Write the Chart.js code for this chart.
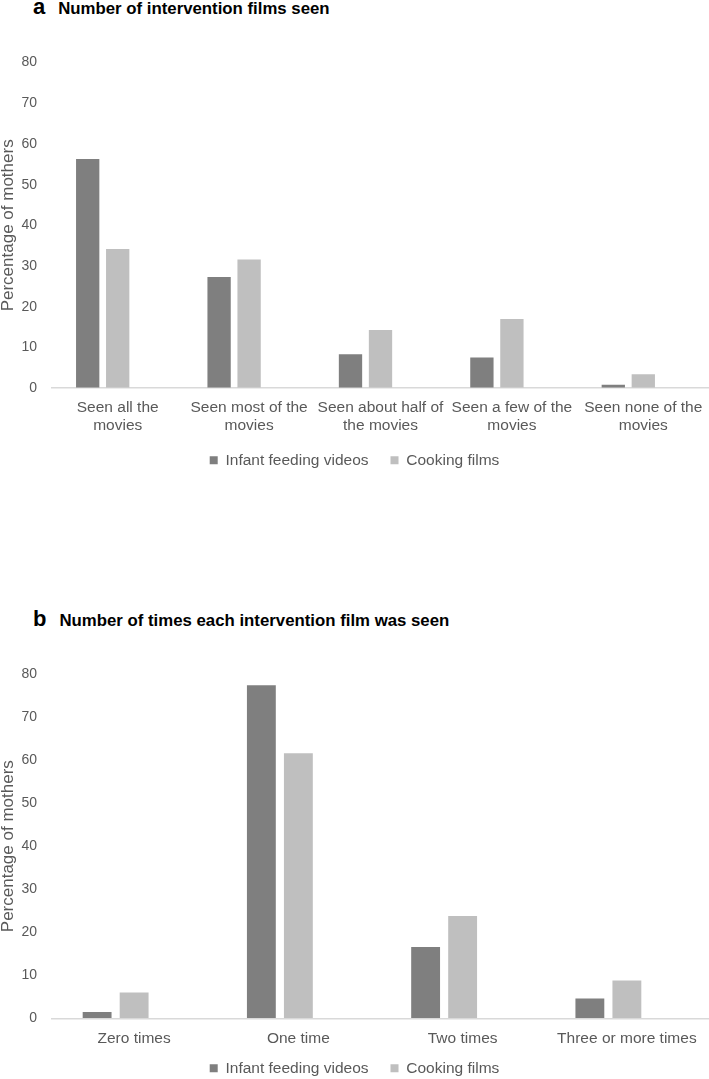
<!DOCTYPE html>
<html>
<head>
<meta charset="utf-8">
<script src="https://cdn.jsdelivr.net/npm/chart.js@4/dist/chart.umd.min.js"></script>
<style>
  html, body { margin: 0; padding: 0; background: #fff; }
  body { width: 709px; height: 1079px; position: relative; overflow: hidden; font-family: "Liberation Sans", Arial, sans-serif; }
  .title { position: absolute; left: 33px; white-space: nowrap; color: #000; font-weight: bold; line-height: 20px; }
  .title .letter { font-size: 22px; margin-right: 13px; }
  .title .txt { font-size: 16.8px; }
  .wrap { position: absolute; left: 0; width: 709px; }
</style>
</head>
<body>
<div class="title" style="top:-3px"><span class="letter">a</span><span class="txt">Number of intervention films seen</span></div>
<div class="title" style="top:609px"><span class="letter">b</span><span class="txt">Number of times each intervention film was seen</span></div>
<div class="wrap" style="top:0px;height:500px"><canvas id="chartA" width="709" height="500"></canvas></div>
<div class="wrap" style="top:600px;height:510px"><canvas id="chartB" width="709" height="510"></canvas></div>
<script>
// ---- Data ----
const seriesNames = ["Infant feeding videos", "Cooking films"];
const filmsSeenCategories = [
  ["Seen all the", "movies"],
  ["Seen most of the", "movies"],
  ["Seen about half of", "the movies"],
  ["Seen a few of the", "movies"],
  ["Seen none of the", "movies"]
];
const filmsSeenInfant = [56.3, 27.3, 8.3, 7.5, 0.8];
const filmsSeenCooking = [34.2, 31.6, 14.3, 17.0, 3.4];

const timesSeenCategories = ["Zero times", "One time", "Two times", "Three or more times"];
const timesSeenInfant = [1.5, 77.4, 16.6, 4.6];
const timesSeenCooking = [6.0, 61.6, 23.8, 8.8];

const yTicks = [0, 10, 20, 30, 40, 50, 60, 70, 80];
const yAxisTitle = "Percentage of mothers";

// ---- Styles ----
const DARK = "#7f7f7f", LIGHT = "#bfbfbf", TEXT = "#595959", AXIS = "#d9d9d9";
const FONT = "'Liberation Sans', Arial, sans-serif";

// moves the bottom legend up closer to the axis labels while keeping item spacing
const legendShift = {
  id: "legendShift",
  afterLayout(chart, args, opts) {
    const lg = chart.legend;
    if (!lg || !opts.dy) return;
    lg.top += opts.dy; lg.bottom += opts.dy;
    if (lg.legendHitBoxes) lg.legendHitBoxes.forEach(h => { h.top += opts.dy; });
  }
};

function makeChart(id, categories, infant, cooking, pad, catPct, barPct) {
  const ctx = document.getElementById(id);
  return new Chart(ctx, {
    type: "bar",
    plugins: [legendShift],
    data: {
      labels: categories,
      datasets: [
        { label: seriesNames[0], data: infant, backgroundColor: DARK, categoryPercentage: catPct, barPercentage: barPct },
        { label: seriesNames[1], data: cooking, backgroundColor: LIGHT, categoryPercentage: catPct, barPercentage: barPct },
        // empty third series slot, as in the original spreadsheet chart
        { label: "", data: categories.map(() => null), backgroundColor: "rgba(0,0,0,0)", categoryPercentage: catPct, barPercentage: barPct }
      ]
    },
    options: {
      responsive: false,
      animation: false,
      devicePixelRatio: 1,
      layout: { padding: { top: pad.top, bottom: pad.bottom, left: 0, right: 0 } },
      plugins: {
        tooltip: { enabled: false },
        legendShift: { dy: pad.legendDy },
        legend: {
          position: "bottom",
          labels: {
            filter: (item) => item.text !== "",
            boxWidth: 8, boxHeight: 8,
            color: TEXT,
            font: { family: FONT, size: 15.5 },
            padding: 22
          }
        }
      },
      scales: {
        x: {
          afterFit: (s) => { s.paddingRight = 0; s.paddingLeft = 0; },
          grid: { color: "rgba(0,0,0,0)", drawTicks: false },
          border: { display: true, color: AXIS, width: 1.5 },
          ticks: { color: TEXT, font: { family: FONT, size: 15.5, lineHeight: "17.7px" }, padding: 11, maxRotation: 0, autoSkip: false }
        },
        y: {
          min: 0, max: 80,
          afterBuildTicks: (s) => { s.ticks = yTicks.map(v => ({ value: v })); },
          afterFit: (s) => { s.width = 52; },
          grid: { color: "rgba(0,0,0,0)", drawTicks: false },
          border: { display: false },
          ticks: { color: TEXT, font: { family: FONT, size: 14 }, padding: 15 },
          title: { display: true, text: yAxisTitle, color: TEXT, font: { family: FONT, size: 17, lineHeight: 1 }, padding: 0 }
        }
      }
    }
  });
}

makeChart("chartA", filmsSeenCategories, filmsSeenInfant, filmsSeenCooking,
  { top: 62.6, bottom: 7, legendDy: -14.9 }, 0.685, 0.777);
makeChart("chartB", timesSeenCategories, timesSeenInfant, timesSeenCooking,
  { top: 74, bottom: 4.4, legendDy: -19.5 }, 0.676, 0.78);
</script>
</body>
</html>
